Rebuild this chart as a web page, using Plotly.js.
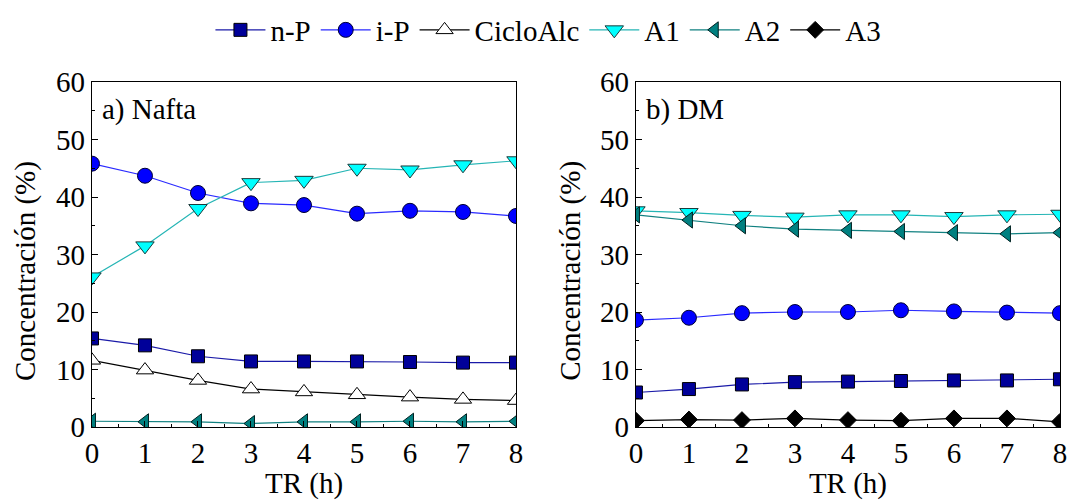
<!DOCTYPE html>
<html>
<head>
<meta charset="utf-8">
<script src="https://cdn.plot.ly/plotly-3.0.1.min.js"></script>
<style>
  html, body { margin: 0; padding: 0; background: #fff; }
  #chart { width: 1067px; height: 500px; }
</style>
</head>
<body>
<div id="chart"></div>
<script>
// Reaction time (h)
const tr = [0, 1, 2, 3, 4, 5, 6, 7, 8];

// a) Nafta
const naftaNP = [15.4, 14.2, 12.3, 11.4, 11.4, 11.4, 11.3, 11.2, 11.2];
const naftaIP = [45.8, 43.7, 40.7, 38.9, 38.6, 37.1, 37.6, 37.4, 36.7];
const naftaCiclo = [11.6, 9.9, 8.1, 6.6, 6.1, 5.6, 5.2, 4.8, 4.6];
const naftaA1 = [26.1, 31.5, 38.0, 42.5, 42.9, 45.0, 44.7, 45.6, 46.3];
const naftaA2 = [1.0, 0.9, 0.9, 0.6, 0.9, 0.9, 1.0, 0.9, 1.0];

// b) DM
const dmNP = [6.0, 6.6, 7.4, 7.8, 7.9, 8.0, 8.1, 8.1, 8.3];
const dmIP = [18.6, 19.0, 19.8, 20.0, 20.0, 20.3, 20.1, 19.9, 19.8];
const dmA1 = [37.6, 37.3, 36.8, 36.5, 36.9, 36.9, 36.6, 36.9, 37.0];
const dmA2 = [36.9, 36.0, 35.0, 34.4, 34.2, 34.0, 33.8, 33.6, 33.8];
const dmA3 = [1.1, 1.3, 1.2, 1.5, 1.2, 1.1, 1.5, 1.5, 0.9];

const yTitle = 'Concentración (%)';
const xTitle = 'TR (h)';

const styles = {
  'n-P':      { line: '#1a1aa8', fill: '#000099', edge: '#000000', symbol: 'square', size: 13 },
  'i-P':      { line: '#2a2aff', fill: '#0000ff', edge: '#000033', symbol: 'circle', size: 15 },
  'CicloAlc': { line: '#000000', fill: '#ffffff', edge: '#000000', symbol: 'triangle-up', size: 15 },
  'A1':       { line: '#25b5b5', fill: '#00ffff', edge: '#1a3a3a', symbol: 'triangle-down', size: 16 },
  'A2':       { line: '#108080', fill: '#008080', edge: '#002020', symbol: 'triangle-left', size: 14 },
  'A3':       { line: '#000000', fill: '#000000', edge: '#000000', symbol: 'diamond', size: 13 }
};

function makeTrace(name, y, xa, ya, show) {
  const s = styles[name];
  return {
    x: tr, y: y, name: name, xaxis: xa, yaxis: ya,
    type: 'scatter', mode: 'lines+markers',
    showlegend: show, cliponaxis: true,
    line: { color: s.line, width: 1.2 },
    marker: { symbol: s.symbol, size: s.size, color: s.fill, line: { color: s.edge, width: 1 } }
  };
}

const data = [
  makeTrace('n-P', naftaNP, 'x', 'y', true),
  makeTrace('i-P', naftaIP, 'x', 'y', true),
  makeTrace('CicloAlc', naftaCiclo, 'x', 'y', true),
  makeTrace('A1', naftaA1, 'x', 'y', true),
  makeTrace('A2', naftaA2, 'x', 'y', true),
  makeTrace('n-P', dmNP, 'x2', 'y2', false),
  makeTrace('i-P', dmIP, 'x2', 'y2', false),
  makeTrace('A1', dmA1, 'x2', 'y2', false),
  makeTrace('A2', dmA2, 'x2', 'y2', false),
  makeTrace('A3', dmA3, 'x2', 'y2', true)
];

const fontFam = 'Times New Roman, Liberation Serif, Times, serif';
const fs = 29;

function xAxis(domain, anchor) {
  return {
    domain: domain, anchor: anchor, range: [0, 8],
    tickvals: tr, ticktext: tr.map(String),
    ticks: 'inside', ticklen: 6, tickwidth: 1, tickcolor: '#000',
    minor: { dtick: 0.5, ticks: 'inside', ticklen: 3, tickcolor: '#000', showgrid: false },
    showline: true, mirror: true, linecolor: '#000', linewidth: 1.2,
    showgrid: false, zeroline: false, ticklabeloverflow: 'allow',
    tickfont: { family: fontFam, size: fs, color: '#000' },
    title: { text: xTitle, font: { family: fontFam, size: fs, color: '#000' }, standoff: 14 }
  };
}

function yAxis(domain, anchor) {
  return {
    domain: domain, anchor: anchor, range: [0, 60],
    tickvals: [0, 10, 20, 30, 40, 50, 60],
    ticks: 'inside', ticklen: 6, tickwidth: 1, tickcolor: '#000',
    minor: { dtick: 5, ticks: 'inside', ticklen: 3, tickcolor: '#000', showgrid: false },
    showline: true, mirror: true, linecolor: '#000', linewidth: 1.2,
    showgrid: false, zeroline: false, ticklabeloverflow: 'allow',
    tickfont: { family: fontFam, size: fs, color: '#000' }
  };
}

function panelLabel(text, xref, yref) {
  return { text: text, xref: xref, yref: yref, x: 0.02, y: 0.975,
    xanchor: 'left', yanchor: 'top', showarrow: false,
    font: { family: fontFam, size: fs, color: '#000' } };
}

function yTitleNote(xpos) {
  return { text: yTitle, xref: 'paper', yref: 'paper', x: xpos, y: 0.458,
    xanchor: 'center', yanchor: 'middle', textangle: -90, showarrow: false,
    font: { family: fontFam, size: fs, color: '#000' } };
}

const layout = {
  width: 1067, height: 500,
  margin: { l: 0, r: 0, t: 0, b: 0 },
  paper_bgcolor: '#fff', plot_bgcolor: '#fff',
  font: { family: fontFam, color: '#000' },
  xaxis: xAxis([0.0862, 0.4836], 'y'),
  yaxis: yAxis([0.146, 0.836], 'x'),
  xaxis2: xAxis([0.596, 0.9934], 'y2'),
  yaxis2: yAxis([0.146, 0.836], 'x2'),
  showlegend: true,
  legend: {
    orientation: 'h', x: 0.514, xanchor: 'center', y: 0.94, yanchor: 'middle',
    font: { family: fontFam, size: fs, color: '#000' },
    itemwidth: 50, tracegroupgap: 0, bgcolor: 'rgba(0,0,0,0)'
  },
  annotations: [
    panelLabel('a) Nafta', 'x domain', 'y domain'),
    panelLabel('b) DM', 'x2 domain', 'y2 domain'),
    yTitleNote(0.0234),
    yTitleNote(0.534)
  ]
};

Plotly.newPlot('chart', data, layout, { displayModeBar: false, staticPlot: true });
</script>
</body>
</html>
